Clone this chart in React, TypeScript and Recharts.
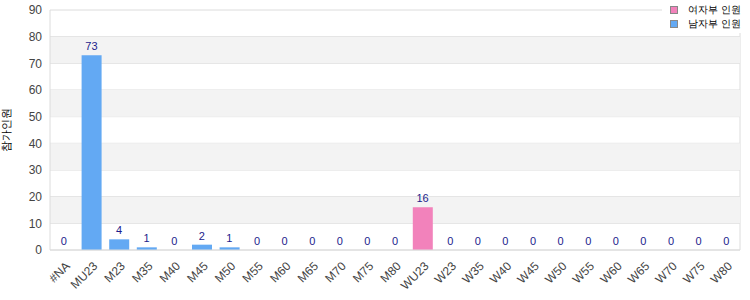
import { ComposedChart, Bar, Line, XAxis, YAxis, CartesianGrid, ReferenceArea, LabelList } from "recharts";

const categories = ["#NA", "MU23", "M23", "M35", "M40", "M45", "M50", "M55", "M60", "M65", "M70", "M75", "M80", "WU23", "W23", "W35", "W40", "W45", "W50", "W55", "W60", "W65", "W70", "W75", "W80"];
const menValues = [0, 73, 4, 1, 0, 2, 1, 0, 0, 0, 0, 0, 0, 0, 0, 0, 0, 0, 0, 0, 0, 0, 0, 0, 0];
const womenValues = [0, 0, 0, 0, 0, 0, 0, 0, 0, 0, 0, 0, 0, 16, 0, 0, 0, 0, 0, 0, 0, 0, 0, 0, 0];
const yTicks = [0, 10, 20, 30, 40, 50, 60, 70, 80, 90];
const bands = [[10, 20], [30, 40], [50, 60], [70, 80]];

const womenName = "여자부 인원";
const menName = "남자부 인원";
const yLabel = "참가인원";

const PINK = "#f282bb";
const BLUE = "#63a9f3";
const FONT = "'Liberation Sans', Arial, sans-serif";

const data = categories.map((c, i) => ({
  name: c,
  men: menValues[i],
  women: womenValues[i],
  total: menValues[i] + womenValues[i],
}));

function XTick({ x, y, payload }: any) {
  return (
    <text x={x + 4} y={y + 6} transform={`rotate(-45 ${x + 4} ${y + 6})`} textAnchor="end" dominantBaseline="central" fontSize={12} fill="#444" fontFamily={FONT}>
      {payload.value}
    </text>
  );
}

function LegendBox() {
  const items = [
    { name: womenName, color: PINK },
    { name: menName, color: BLUE },
  ];
  return (
    <div style={{ position: "absolute", top: 2, left: 662, whiteSpace: "nowrap", background: "#fff", padding: "1px 4px 2px 8px", fontFamily: FONT, fontSize: 10, color: "#000" }}>
      {items.map((it) => (
        <div key={it.name} style={{ display: "flex", alignItems: "center", height: 14 }}>
          <span style={{ width: 6, height: 6, background: it.color, border: "1px solid #888", marginRight: 10, flex: "none" }} />
          <span>{it.name}</span>
        </div>
      ))}
    </div>
  );
}

export default function App() {
  return (
    <div style={{ position: "relative", width: 750, height: 300 }}>
      <style>{`body{margin:0}`}</style>
      <ComposedChart width={750} height={300} data={data} margin={{ top: 10, right: 10, left: 0, bottom: 0 }} barSize={20}>
        {bands.map(([a, b]) => (
          <ReferenceArea key={a} y1={a} y2={b} fill="#f3f3f3" fillOpacity={1} stroke="none" ifOverflow="visible" />
        ))}
        <CartesianGrid
          stroke="#dcdcdc"
          verticalCoordinatesGenerator={({ offset }: any) => [offset.left + offset.width]}
        />
        <XAxis
          dataKey="name"
          interval={0}
          height={50}
          tick={<XTick />}
          tickLine={false}
          axisLine={{ stroke: "#dcdcdc" }}
        />
        <YAxis
          domain={[0, 90]}
          ticks={yTicks}
          width={50}
          tickLine={false}
          axisLine={{ stroke: "#dcdcdc" }}
          tick={{ fontSize: 12, fill: "#444", fontFamily: FONT }}
          label={{ value: yLabel, angle: -90, position: "insideLeft", offset: 6, style: { fontSize: 11, fill: "#000", fontFamily: FONT, textAnchor: "middle" } }}
        />
        <Bar dataKey="men" name={menName} stackId="a" fill={BLUE} isAnimationActive={false} />
        <Bar dataKey="women" name={womenName} stackId="a" fill={PINK} isAnimationActive={false} />
        <Line dataKey="total" stroke="none" dot={false} activeDot={false} legendType="none" isAnimationActive={false}>
          <LabelList dataKey="total" position="top" offset={5} style={{ fontSize: 11, fill: "#1c1c8c", fontFamily: FONT }} />
        </Line>
      </ComposedChart>
      <LegendBox />
    </div>
  );
}
